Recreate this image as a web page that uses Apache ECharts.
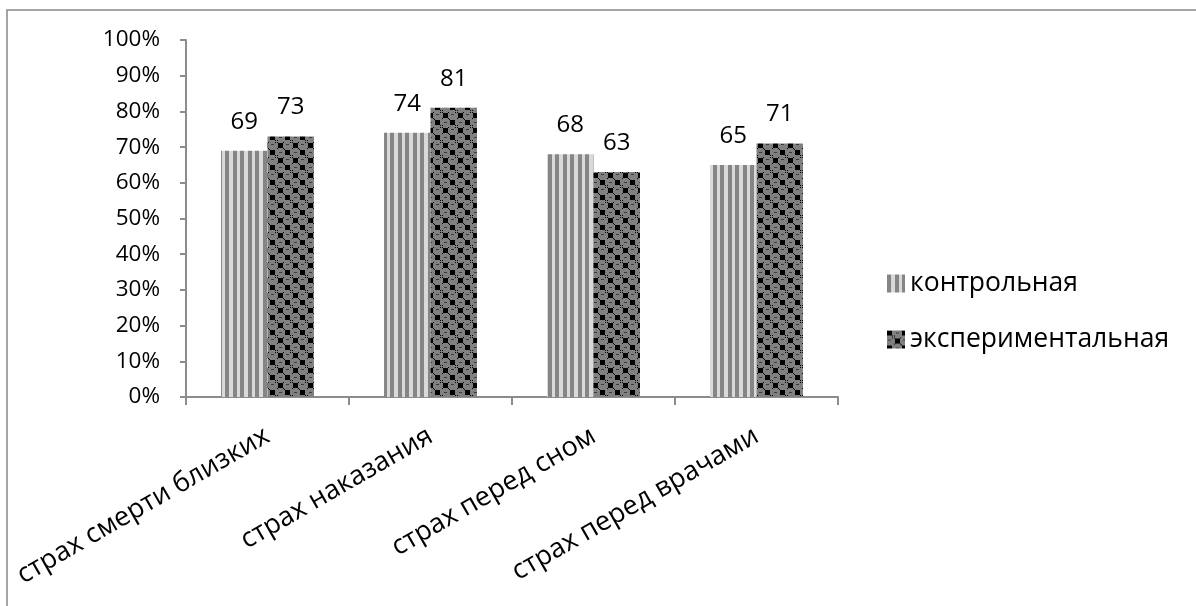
<!DOCTYPE html>
<html>
<head>
<meta charset="utf-8">
<script src="https://cdn.jsdelivr.net/npm/echarts@6/dist/echarts.min.js"></script>
<style>
  html, body { margin: 0; padding: 0; background: #fff; }
  #chart { width: 1196px; height: 606px; }
</style>
</head>
<body>
<div id="chart"></div>
<script>
// Fear categories and group results (percent)
const categories = ['страх смерти близких', 'страх наказания', 'страх перед сном', 'страх перед врачами'];
const seriesNames = ['контрольная', 'экспериментальная'];
const controlValues = [69, 74, 68, 65];
const experimentalValues = [73, 81, 63, 71];
const yTicks = [0, 10, 20, 30, 40, 50, 60, 70, 80, 90, 100];

const FONT = '"Open Sans", "Noto Sans", "DejaVu Sans", sans-serif';

// Vertical stripe fill
function stripePattern() {
  const c = document.createElement('canvas');
  c.width = 15; c.height = 8;
  const g = c.getContext('2d');
  g.fillStyle = '#d9d9d9';
  g.fillRect(0, 0, 15, 8);
  g.fillStyle = '#858585';
  g.fillRect(0, 0, 4, 8);
  g.fillRect(8, 0, 4, 8);
  return c;
}

// Dark checker fill with grey dots
function checkerPattern() {
  const c = document.createElement('canvas');
  c.width = 15; c.height = 15;
  const g = c.getContext('2d');
  g.fillStyle = '#808080';
  g.fillRect(0, 0, 15, 15);
  g.fillStyle = '#000';
  g.fillRect(0, 0, 5, 5);
  g.fillRect(8, 8, 5, 5);
  // small corner bits that round off the grey cells
  g.fillRect(5, 5, 1, 1); g.fillRect(7, 7, 1, 1);
  g.fillRect(13, 13, 1, 1); g.fillRect(14, 14, 1, 1);
  g.fillRect(5, 7, 1, 1); g.fillRect(7, 5, 1, 1);
  g.fillRect(13, 7, 1, 1); g.fillRect(7, 13, 1, 1);
  // dashes inside grey cells
  g.fillStyle = '#3a3a3a';
  g.fillRect(9, 2, 3, 1);
  g.fillRect(1, 9, 3, 1);
  return c;
}

const chart = echarts.init(document.getElementById('chart'), null, { renderer: 'canvas' });

const axisGrey = '#8c8c8c';

chart.setOption({
  animation: false,
  backgroundColor: '#fff',
  textStyle: { fontFamily: FONT, color: '#000' },
  graphic: [{
    type: 'rect',
    shape: { x: 7, y: 10, width: 1200, height: 620 },
    style: { fill: 'none', stroke: '#888', lineWidth: 1.5 },
    silent: true
  }],
  grid: { left: 186, right: 358, top: 40, bottom: 209, containLabel: false },
  legend: {
    orient: 'vertical',
    left: 882,
    top: 265,
    itemWidth: 18,
    itemHeight: 18,
    itemGap: 29,
    icon: 'rect',
    textStyle: { fontFamily: FONT, fontSize: 26.5, color: '#000' },
    data: seriesNames
  },
  xAxis: {
    type: 'category',
    data: categories,
    axisLine: { lineStyle: { color: axisGrey, width: 2 } },
    axisTick: { show: true, length: 8, lineStyle: { color: axisGrey, width: 2 } },
    axisLabel: { rotate: 30, margin: 37, fontSize: 27, color: '#000', fontFamily: FONT, interval: 0 }
  },
  yAxis: {
    type: 'value',
    min: yTicks[0],
    max: yTicks[yTicks.length - 1],
    interval: 10,
    splitLine: { show: false },
    axisLine: { show: true, lineStyle: { color: axisGrey, width: 2 } },
    axisTick: { show: true, length: 6, lineStyle: { color: axisGrey, width: 2 } },
    axisLabel: { formatter: '{value}%', fontSize: 22.5, color: '#000', fontFamily: FONT, margin: 26 }
  },
  series: [
    {
      name: seriesNames[0],
      type: 'bar',
      data: controlValues,
      barGap: '0%',
      barCategoryGap: '43%',
      itemStyle: { color: { image: stripePattern(), repeat: 'repeat' } },
      label: { show: true, position: 'top', distance: 17, fontSize: 24, color: '#000', fontFamily: FONT }
    },
    {
      name: seriesNames[1],
      type: 'bar',
      data: experimentalValues,
      barGap: '0%',
      barCategoryGap: '43%',
      itemStyle: { color: { image: checkerPattern(), repeat: 'repeat' } },
      label: { show: true, position: 'top', distance: 17, fontSize: 24, color: '#000', fontFamily: FONT }
    }
  ]
});
</script>
</body>
</html>
